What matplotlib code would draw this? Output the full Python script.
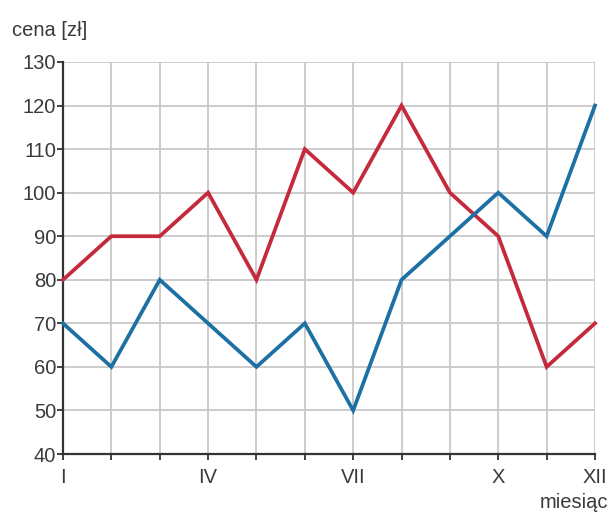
import matplotlib
matplotlib.use("Agg")
import matplotlib.pyplot as plt

plt.rcParams["font.family"] = ["Liberation Sans", "DejaVu Sans"]

months = ["I", "II", "III", "IV", "V", "VI", "VII", "VIII", "IX", "X", "XI", "XII"]
shown_labels = ["I", "", "", "IV", "", "", "VII", "", "", "X", "", "XII"]
red_values = [80, 90, 90, 100, 80, 110, 100, 120, 100, 90, 60, 70]
blue_values = [70, 60, 80, 70, 60, 70, 50, 80, 90, 100, 90, 120]
y_ticks = [40, 50, 60, 70, 80, 90, 100, 110, 120, 130]

fig = plt.figure(figsize=(6.15, 5.16), dpi=100)
ax = fig.add_axes([63/615, 1-454/516, (595-63)/615, (454-62)/516])

x = list(range(len(months)))
ax.set_xlim(0, len(months)-1)
ax.set_ylim(40, 130)

ax.set_xticks(x)
ax.set_xticklabels(shown_labels)
ax.set_yticks(y_ticks)
ax.grid(True, color="#c8c8c8", linewidth=1.3)
ax.set_axisbelow(True)

ax.plot(x, red_values, color="#c42a3c", linewidth=2.7, solid_joinstyle="miter", clip_on=False, zorder=3)
ax.plot(x, blue_values, color="#1c70a4", linewidth=2.7, solid_joinstyle="miter", clip_on=False, zorder=3)

for s in ["top", "right"]:
    ax.spines[s].set_visible(False)
for s in ["left", "bottom"]:
    ax.spines[s].set_color("#333333")
    ax.spines[s].set_linewidth(1.6)

ax.tick_params(axis="both", colors="#333333", labelsize=14.5, length=4, width=1.3)
ax.tick_params(axis="y", pad=1)
ax.tick_params(axis="x", pad=6)
for lbl in ax.get_xticklabels() + ax.get_yticklabels():
    lbl.set_color("#3a3a3a")

fig.text(12/615, 1-30/516, "cena [zł]", fontsize=14.5, color="#3a3a3a", va="center", ha="left")
fig.text(608/615, 1-503/516, "miesiąc", fontsize=14.5, color="#3a3a3a", va="center", ha="right")

fig.savefig("out.png", dpi=100)
